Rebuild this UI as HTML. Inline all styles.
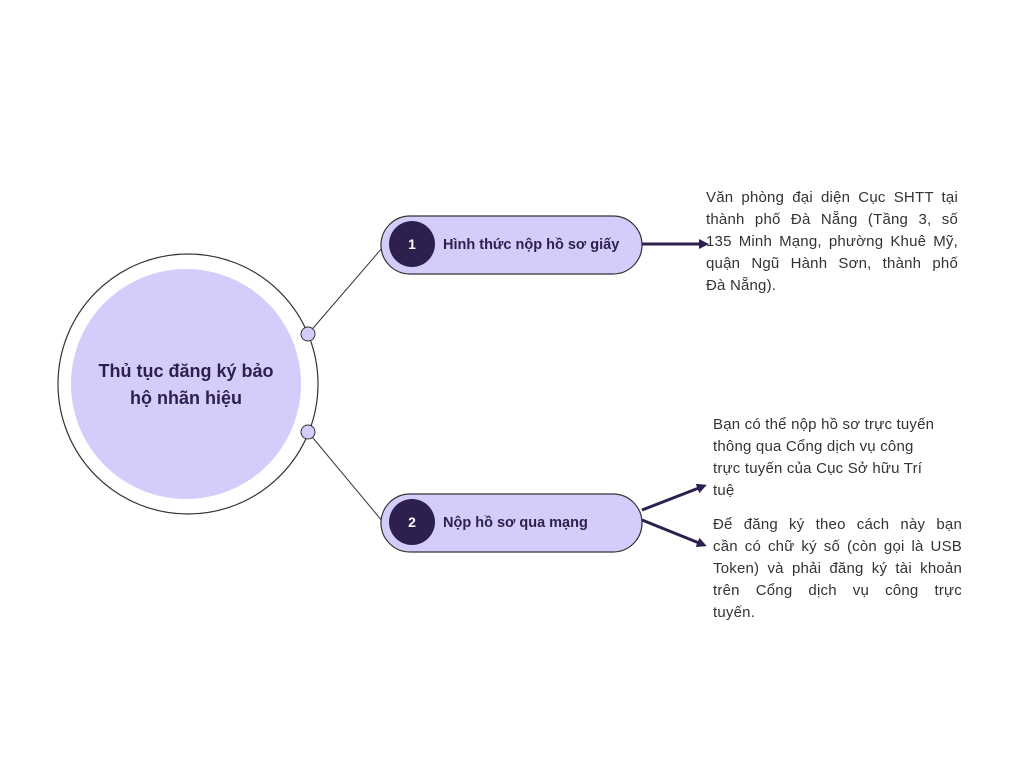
<!DOCTYPE html>
<html><head><meta charset="utf-8"><style>
body{margin:0;background:#fff;width:1024px;height:768px;position:relative;overflow:hidden;font-family:"Liberation Sans",sans-serif}
.t{position:absolute;font-size:15px;line-height:22px;color:#333;letter-spacing:0.2px}
.t div{white-space:nowrap}
.j div{text-align:justify;text-align-last:justify;white-space:normal}
.j div.l{text-align-last:left}
.pl{position:absolute;font-size:14.5px;font-weight:bold;color:#2d1f4e}
.c{position:absolute;font-size:18px;font-weight:bold;color:#2d1f4e;text-align:center;line-height:27px}
</style></head><body>
<svg width="1024" height="768" style="position:absolute;left:0;top:0">
<defs><marker id="a" markerWidth="10" markerHeight="10" refX="7" refY="5" orient="auto" markerUnits="userSpaceOnUse"><path d="M0,0 L10,5 L0,10 Z" fill="#2d1f4e"/></marker></defs>
<circle cx="188" cy="384" r="130" fill="#fff" stroke="#333" stroke-width="1.2"/>
<circle cx="186" cy="384" r="115" fill="#d4cdfb"/>
<line x1="308" y1="334" x2="383" y2="247" stroke="#333" stroke-width="1"/>
<line x1="308" y1="432" x2="383" y2="522" stroke="#333" stroke-width="1"/>
<circle cx="308" cy="334" r="7" fill="#d4cdfb" stroke="#333" stroke-width="1"/>
<circle cx="308" cy="432" r="7" fill="#d4cdfb" stroke="#333" stroke-width="1"/>
<rect x="381" y="216" width="261" height="58" rx="29" fill="#d4cdfb" stroke="#333" stroke-width="1.2"/>
<rect x="381" y="494" width="261" height="58" rx="29" fill="#d4cdfb" stroke="#333" stroke-width="1.2"/>
<circle cx="412" cy="244" r="23" fill="#2d1f4e"/>
<circle cx="412" cy="522" r="23" fill="#2d1f4e"/>
<text x="412" y="249" fill="#fff" font-size="14" font-weight="bold" text-anchor="middle" font-family="Liberation Sans">1</text>
<text x="412" y="527" fill="#fff" font-size="14" font-weight="bold" text-anchor="middle" font-family="Liberation Sans">2</text>
<line x1="642" y1="244" x2="706" y2="244" stroke="#2d1f4e" stroke-width="3" marker-end="url(#a)"/>
<line x1="642" y1="510" x2="704" y2="486" stroke="#2d1f4e" stroke-width="3" marker-end="url(#a)"/>
<line x1="642" y1="520" x2="704" y2="545" stroke="#2d1f4e" stroke-width="3" marker-end="url(#a)"/>
</svg>
<div class="c" style="left:86px;top:358px;width:200px">Thủ tục đăng ký bảo hộ nhãn hiệu</div>
<div class="pl" style="left:443px;top:237px">Hình thức nộp hồ sơ giấy</div>
<div class="pl" style="left:443px;top:515px">Nộp hồ sơ qua mạng</div>
<div class="t j" style="left:706px;top:187px;width:252px">
<div>Văn phòng đại diện Cục SHTT tại</div>
<div>thành phố Đà Nẵng (Tầng 3, số</div>
<div>135 Minh Mạng, phường Khuê Mỹ,</div>
<div>quận Ngũ Hành Sơn, thành phố</div>
<div class="l">Đà Nẵng).</div>
</div>
<div class="t" style="left:713px;top:414px;width:250px">
<div>Bạn có thể nộp hồ sơ trực tuyến</div>
<div>thông qua Cổng dịch vụ công</div>
<div>trực tuyến của Cục Sở hữu Trí</div>
<div>tuệ</div>
</div>
<div class="t j" style="left:713px;top:514px;width:249px">
<div>Để đăng ký theo cách này bạn</div>
<div>cần có chữ ký số (còn gọi là USB</div>
<div>Token) và phải đăng ký tài khoản</div>
<div>trên Cổng dịch vụ công trực</div>
<div class="l">tuyến.</div>
</div>
</body></html>
